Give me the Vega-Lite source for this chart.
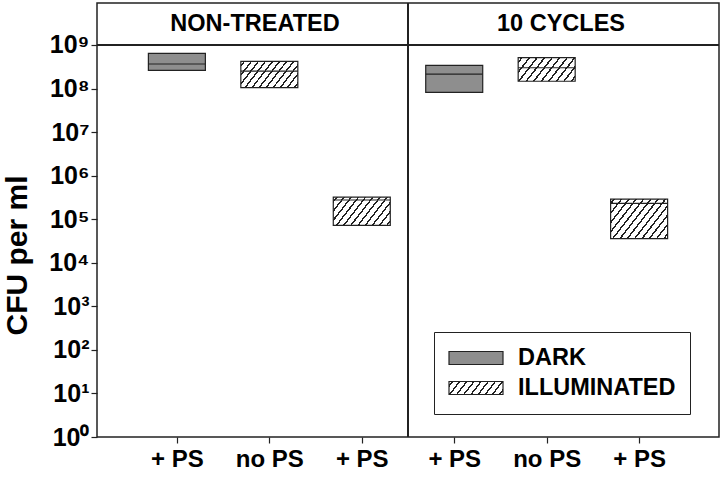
{
  "$schema": "https://vega.github.io/schema/vega-lite/v6.json",
  "width": 622,
  "height": 434,
  "autosize": "none",
  "padding": {"left": 97, "top": 3, "right": 3, "bottom": 42},
  "background": "white",
  "config": {
    "font": "Liberation Sans",
    "view": {"stroke": "#222", "strokeWidth": 1.5},
    "axis": {
      "labelFont": "Liberation Sans", "labelFontWeight": "bold", "labelColor": "#000",
      "titleFont": "Liberation Sans", "titleFontWeight": "bold", "titleColor": "#000",
      "tickColor": "#222", "tickWidth": 1.2, "tickSize": 6, "domain": false, "grid": false,
      "labelFlush": false, "labelOverlap": false
    }
  },
  "data": {
    "values": [
      {"group": "NON-TREATED", "ps": "+ PS", "pos": 1, "cond": "DARK", "id": "d1", "low": 2.6e8, "median": 3.66e8, "high": 6.4e8},
      {"group": "NON-TREATED", "ps": "no PS", "pos": 2, "cond": "ILLUMINATED", "id": "i1", "low": 1.05e8, "median": 2.5e8, "high": 4.2e8},
      {"group": "NON-TREATED", "ps": "+ PS", "pos": 3, "cond": "ILLUMINATED", "id": "i2", "low": 7.2e4, "median": 2.76e5, "high": 3.2e5},
      {"group": "10 CYCLES", "ps": "+ PS", "pos": 4, "cond": "DARK", "id": "d2", "low": 8.2e7, "median": 2.15e8, "high": 3.4e8},
      {"group": "10 CYCLES", "ps": "no PS", "pos": 5, "cond": "ILLUMINATED", "id": "i3", "low": 1.47e8, "median": 3.0e8, "high": 5.1e8},
      {"group": "10 CYCLES", "ps": "+ PS", "pos": 6, "cond": "ILLUMINATED", "id": "i4", "low": 3.6e4, "median": 2.3e5, "high": 2.9e5}
    ]
  },
  "layer": [
    {
      "mark": {"type": "point", "shape": "M-1,-0.24H1V0.24H-1Z", "filled": true, "opacity": 0, "size": 10},
      "encoding": {
        "x": {
          "field": "pos", "type": "quantitative",
          "scale": {"domain": [0.19, 6.81], "nice": false, "zero": false},
          "axis": {
            "values": [1, 2, 3, 4, 5, 6],
            "labelExpr": "datum.value == 2 || datum.value == 5 ? 'no PS' : '+ PS'",
            "title": null, "labelFontSize": 24, "labelPadding": 4
          }
        },
        "y": {
          "field": "median", "type": "quantitative",
          "scale": {"type": "log", "domain": [1, 9.2e9], "nice": false},
          "axis": {
            "values": [1, 10, 100, 1000, 10000, 100000, 1000000, 10000000, 100000000, 1000000000],
            "labelExpr": "'10' + ['⁰','¹','²','³','⁴','⁵','⁶','⁷','⁸','⁹'][round(log(datum.value)/LN10)]",
            "title": "CFU per ml", "titleFontSize": 30, "titlePadding": 16, "titleY": 252,
            "labelFontSize": 25, "labelPadding": 2
          }
        },
        "color": {
          "field": "cond", "type": "nominal",
          "scale": {
            "domain": ["DARK", "ILLUMINATED"],
            "range": [
              "#8e8e8e",
              {"expr": "{gradient: 'linear', x1: 0, y1: 0, x2: 1.1472, y2: 0.2151, stops: [{offset: 0.04167, color: '#fff'}, {offset: 0.04167, color: '#222'}, {offset: 0.06944, color: '#222'}, {offset: 0.06944, color: '#fff'}, {offset: 0.15278, color: '#fff'}, {offset: 0.15278, color: '#222'}, {offset: 0.18056, color: '#222'}, {offset: 0.18056, color: '#fff'}, {offset: 0.26389, color: '#fff'}, {offset: 0.26389, color: '#222'}, {offset: 0.29167, color: '#222'}, {offset: 0.29167, color: '#fff'}, {offset: 0.375, color: '#fff'}, {offset: 0.375, color: '#222'}, {offset: 0.40278, color: '#222'}, {offset: 0.40278, color: '#fff'}, {offset: 0.48611, color: '#fff'}, {offset: 0.48611, color: '#222'}, {offset: 0.51389, color: '#222'}, {offset: 0.51389, color: '#fff'}, {offset: 0.59722, color: '#fff'}, {offset: 0.59722, color: '#222'}, {offset: 0.625, color: '#222'}, {offset: 0.625, color: '#fff'}, {offset: 0.70833, color: '#fff'}, {offset: 0.70833, color: '#222'}, {offset: 0.73611, color: '#222'}, {offset: 0.73611, color: '#fff'}, {offset: 0.81944, color: '#fff'}, {offset: 0.81944, color: '#222'}, {offset: 0.84722, color: '#222'}, {offset: 0.84722, color: '#fff'}, {offset: 0.93056, color: '#fff'}, {offset: 0.93056, color: '#222'}, {offset: 0.95833, color: '#222'}, {offset: 0.95833, color: '#fff'}]}"}
            ]
          },
          "legend": {
            "title": null, "orient": "none", "legendX": 337, "legendY": 329,
            "labelFont": "Liberation Sans", "labelFontWeight": "bold", "labelFontSize": 23.5, "labelColor": "#000",
            "labelOffset": 14, "symbolType": "M-1,-0.24H1V0.24H-1Z", "symbolSize": 2916, "symbolOpacity": 1,
            "symbolStrokeColor": "#222", "symbolStrokeWidth": 1.2, "clipHeight": 24, "rowPadding": 6,
            "padding": 14, "strokeColor": "#222", "fillColor": "white",
            "encode": {
              "symbols": {
                "update": {
                  "stroke": {"value": "#222"},
                  "strokeWidth": {"value": 1.2},
                  "opacity": {"value": 1}
                }
              }
            }
          }
        }
      }
    },
    {
      "mark": {"type": "bar", "size": 57, "stroke": "#222", "strokeWidth": 1.2},
      "encoding": {
        "x": {"field": "pos", "type": "quantitative"},
        "y": {"field": "low", "type": "quantitative"},
        "y2": {"field": "high"},
        "fill": {
          "condition": [
            {"test": "datum.id == 'i1'", "value": {"gradient": "linear", "x1": 0, "y1": 0, "x2": 1.2038, "y2": 0.4323, "stops": [
              {"offset": 0.0341, "color": "#fff"}, {"offset": 0.0341, "color": "#222"}, {"offset": 0.0568, "color": "#222"}, {"offset": 0.0568, "color": "#fff"},
              {"offset": 0.125, "color": "#fff"}, {"offset": 0.125, "color": "#222"}, {"offset": 0.1477, "color": "#222"}, {"offset": 0.1477, "color": "#fff"},
              {"offset": 0.2159, "color": "#fff"}, {"offset": 0.2159, "color": "#222"}, {"offset": 0.2386, "color": "#222"}, {"offset": 0.2386, "color": "#fff"},
              {"offset": 0.3068, "color": "#fff"}, {"offset": 0.3068, "color": "#222"}, {"offset": 0.3295, "color": "#222"}, {"offset": 0.3295, "color": "#fff"},
              {"offset": 0.3977, "color": "#fff"}, {"offset": 0.3977, "color": "#222"}, {"offset": 0.4205, "color": "#222"}, {"offset": 0.4205, "color": "#fff"},
              {"offset": 0.4886, "color": "#fff"}, {"offset": 0.4886, "color": "#222"}, {"offset": 0.5114, "color": "#222"}, {"offset": 0.5114, "color": "#fff"},
              {"offset": 0.5795, "color": "#fff"}, {"offset": 0.5795, "color": "#222"}, {"offset": 0.6023, "color": "#222"}, {"offset": 0.6023, "color": "#fff"},
              {"offset": 0.6705, "color": "#fff"}, {"offset": 0.6705, "color": "#222"}, {"offset": 0.6932, "color": "#222"}, {"offset": 0.6932, "color": "#fff"},
              {"offset": 0.7614, "color": "#fff"}, {"offset": 0.7614, "color": "#222"}, {"offset": 0.7841, "color": "#222"}, {"offset": 0.7841, "color": "#fff"},
              {"offset": 0.8523, "color": "#fff"}, {"offset": 0.8523, "color": "#222"}, {"offset": 0.875, "color": "#222"}, {"offset": 0.875, "color": "#fff"},
              {"offset": 0.9432, "color": "#fff"}, {"offset": 0.9432, "color": "#222"}, {"offset": 0.9659, "color": "#222"}, {"offset": 0.9659, "color": "#fff"}
            ]}},
            {"test": "datum.id == 'i2'", "value": {"gradient": "linear", "x1": 0, "y1": 0, "x2": 1.2063, "y2": 0.4662, "stops": [
              {"offset": 0.0341, "color": "#fff"}, {"offset": 0.0341, "color": "#222"}, {"offset": 0.0568, "color": "#222"}, {"offset": 0.0568, "color": "#fff"},
              {"offset": 0.125, "color": "#fff"}, {"offset": 0.125, "color": "#222"}, {"offset": 0.1477, "color": "#222"}, {"offset": 0.1477, "color": "#fff"},
              {"offset": 0.2159, "color": "#fff"}, {"offset": 0.2159, "color": "#222"}, {"offset": 0.2386, "color": "#222"}, {"offset": 0.2386, "color": "#fff"},
              {"offset": 0.3068, "color": "#fff"}, {"offset": 0.3068, "color": "#222"}, {"offset": 0.3295, "color": "#222"}, {"offset": 0.3295, "color": "#fff"},
              {"offset": 0.3977, "color": "#fff"}, {"offset": 0.3977, "color": "#222"}, {"offset": 0.4205, "color": "#222"}, {"offset": 0.4205, "color": "#fff"},
              {"offset": 0.4886, "color": "#fff"}, {"offset": 0.4886, "color": "#222"}, {"offset": 0.5114, "color": "#222"}, {"offset": 0.5114, "color": "#fff"},
              {"offset": 0.5795, "color": "#fff"}, {"offset": 0.5795, "color": "#222"}, {"offset": 0.6023, "color": "#222"}, {"offset": 0.6023, "color": "#fff"},
              {"offset": 0.6705, "color": "#fff"}, {"offset": 0.6705, "color": "#222"}, {"offset": 0.6932, "color": "#222"}, {"offset": 0.6932, "color": "#fff"},
              {"offset": 0.7614, "color": "#fff"}, {"offset": 0.7614, "color": "#222"}, {"offset": 0.7841, "color": "#222"}, {"offset": 0.7841, "color": "#fff"},
              {"offset": 0.8523, "color": "#fff"}, {"offset": 0.8523, "color": "#222"}, {"offset": 0.875, "color": "#222"}, {"offset": 0.875, "color": "#fff"},
              {"offset": 0.9432, "color": "#fff"}, {"offset": 0.9432, "color": "#222"}, {"offset": 0.9659, "color": "#222"}, {"offset": 0.9659, "color": "#fff"}
            ]}},
            {"test": "datum.id == 'i3'", "value": {"gradient": "linear", "x1": 0, "y1": 0, "x2": 1.1978, "y2": 0.3859, "stops": [
              {"offset": 0.0375, "color": "#fff"}, {"offset": 0.0375, "color": "#222"}, {"offset": 0.0625, "color": "#222"}, {"offset": 0.0625, "color": "#fff"},
              {"offset": 0.1375, "color": "#fff"}, {"offset": 0.1375, "color": "#222"}, {"offset": 0.1625, "color": "#222"}, {"offset": 0.1625, "color": "#fff"},
              {"offset": 0.2375, "color": "#fff"}, {"offset": 0.2375, "color": "#222"}, {"offset": 0.2625, "color": "#222"}, {"offset": 0.2625, "color": "#fff"},
              {"offset": 0.3375, "color": "#fff"}, {"offset": 0.3375, "color": "#222"}, {"offset": 0.3625, "color": "#222"}, {"offset": 0.3625, "color": "#fff"},
              {"offset": 0.4375, "color": "#fff"}, {"offset": 0.4375, "color": "#222"}, {"offset": 0.4625, "color": "#222"}, {"offset": 0.4625, "color": "#fff"},
              {"offset": 0.5375, "color": "#fff"}, {"offset": 0.5375, "color": "#222"}, {"offset": 0.5625, "color": "#222"}, {"offset": 0.5625, "color": "#fff"},
              {"offset": 0.6375, "color": "#fff"}, {"offset": 0.6375, "color": "#222"}, {"offset": 0.6625, "color": "#222"}, {"offset": 0.6625, "color": "#fff"},
              {"offset": 0.7375, "color": "#fff"}, {"offset": 0.7375, "color": "#222"}, {"offset": 0.7625, "color": "#222"}, {"offset": 0.7625, "color": "#fff"},
              {"offset": 0.8375, "color": "#fff"}, {"offset": 0.8375, "color": "#222"}, {"offset": 0.8625, "color": "#222"}, {"offset": 0.8625, "color": "#fff"},
              {"offset": 0.9375, "color": "#fff"}, {"offset": 0.9375, "color": "#222"}, {"offset": 0.9625, "color": "#222"}, {"offset": 0.9625, "color": "#fff"}
            ]}},
            {"test": "datum.id == 'i4'", "value": {"gradient": "linear", "x1": 0, "y1": 0, "x2": 1.192, "y2": 0.6454, "stops": [
              {"offset": 0.03125, "color": "#fff"}, {"offset": 0.03125, "color": "#222"}, {"offset": 0.05208, "color": "#222"}, {"offset": 0.05208, "color": "#fff"},
              {"offset": 0.11458, "color": "#fff"}, {"offset": 0.11458, "color": "#222"}, {"offset": 0.13542, "color": "#222"}, {"offset": 0.13542, "color": "#fff"},
              {"offset": 0.19792, "color": "#fff"}, {"offset": 0.19792, "color": "#222"}, {"offset": 0.21875, "color": "#222"}, {"offset": 0.21875, "color": "#fff"},
              {"offset": 0.28125, "color": "#fff"}, {"offset": 0.28125, "color": "#222"}, {"offset": 0.30208, "color": "#222"}, {"offset": 0.30208, "color": "#fff"},
              {"offset": 0.36458, "color": "#fff"}, {"offset": 0.36458, "color": "#222"}, {"offset": 0.38542, "color": "#222"}, {"offset": 0.38542, "color": "#fff"},
              {"offset": 0.44792, "color": "#fff"}, {"offset": 0.44792, "color": "#222"}, {"offset": 0.46875, "color": "#222"}, {"offset": 0.46875, "color": "#fff"},
              {"offset": 0.53125, "color": "#fff"}, {"offset": 0.53125, "color": "#222"}, {"offset": 0.55208, "color": "#222"}, {"offset": 0.55208, "color": "#fff"},
              {"offset": 0.61458, "color": "#fff"}, {"offset": 0.61458, "color": "#222"}, {"offset": 0.63542, "color": "#222"}, {"offset": 0.63542, "color": "#fff"},
              {"offset": 0.69792, "color": "#fff"}, {"offset": 0.69792, "color": "#222"}, {"offset": 0.71875, "color": "#222"}, {"offset": 0.71875, "color": "#fff"},
              {"offset": 0.78125, "color": "#fff"}, {"offset": 0.78125, "color": "#222"}, {"offset": 0.80208, "color": "#222"}, {"offset": 0.80208, "color": "#fff"},
              {"offset": 0.86458, "color": "#fff"}, {"offset": 0.86458, "color": "#222"}, {"offset": 0.88542, "color": "#222"}, {"offset": 0.88542, "color": "#fff"},
              {"offset": 0.94792, "color": "#fff"}, {"offset": 0.94792, "color": "#222"}, {"offset": 0.96875, "color": "#222"}, {"offset": 0.96875, "color": "#fff"}
            ]}}
          ],
          "value": "#8e8e8e"
        }
      }
    },
    {
      "mark": {"type": "tick", "orient": "horizontal", "size": 57, "thickness": 1.2, "color": "#222", "opacity": 1},
      "encoding": {
        "x": {"field": "pos", "type": "quantitative"},
        "y": {"field": "median", "type": "quantitative"}
      }
    },
    {
      "mark": {"type": "rule", "color": "#222", "strokeWidth": 1.5},
      "encoding": {"x": {"datum": 3.5}}
    },
    {
      "mark": {"type": "rule", "color": "#222", "strokeWidth": 1.5},
      "encoding": {"y": {"datum": 1000000000}}
    },
    {
      "data": {"values": [{"group": "NON-TREATED"}]},
      "mark": {"type": "text", "font": "Liberation Sans", "fontWeight": "bold", "fontSize": 23.5, "color": "#000", "baseline": "middle", "align": "center"},
      "encoding": {
        "x": {"datum": 1.845},
        "y": {"datum": 3050000000},
        "text": {"field": "group"}
      }
    },
    {
      "data": {"values": [{"group": "10 CYCLES"}]},
      "mark": {"type": "text", "font": "Liberation Sans", "fontWeight": "bold", "fontSize": 23.5, "color": "#000", "baseline": "middle", "align": "center"},
      "encoding": {
        "x": {"datum": 5.155},
        "y": {"datum": 3050000000},
        "text": {"field": "group"}
      }
    }
  ]
}
